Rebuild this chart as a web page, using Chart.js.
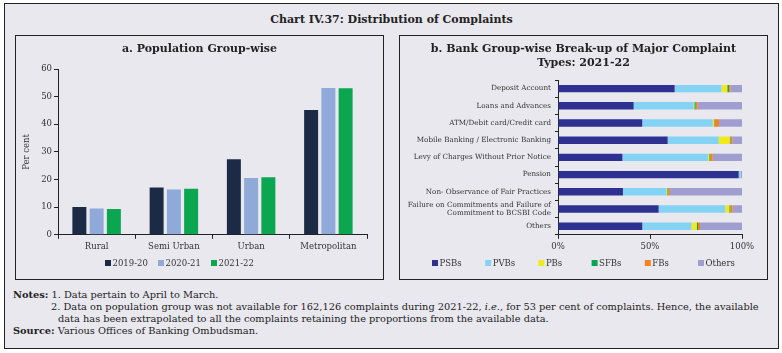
<!DOCTYPE html>
<html lang="en">
<head>
<meta charset="UTF-8" />
<title>Chart IV.37: Distribution of Complaints</title>
<script src="https://cdn.jsdelivr.net/npm/chart.js@4.4.1/dist/chart.umd.min.js"></script>
<style>
    body { margin: 0; background: #fff; }
    #page {
        position: absolute; left: 4px; top: 3px; width: 775px; height: 346px;
        background: #e9e8ee; border: 1px solid #222; box-sizing: border-box;
    }
    #title {
        position: absolute; left: 0; top: 9px; width: 100%; text-align: center;
        font: bold 11px "DejaVu Serif", serif; color: #222;
    }
    .panel {
        position: absolute; top: 31px; width: 369px; height: 245px;
        border: 1px solid #222; box-sizing: border-box;
    }
    .panel canvas { display: block; }
    .panel h2 {
        position: absolute; left: 0; top: 6px; width: 100%; margin: 0; text-align: center;
        font: bold 11px "DejaVu Serif", serif; line-height: 14px; color: #222;
    }
    #notes {
        position: absolute; left: 8px; top: 285px; width: 765px;
        font: 9.8px "DejaVu Serif", serif; color: #222; line-height: 12px; white-space: nowrap;
    }
    #notes .n2 { padding-left: 38px; }
    #notes .n3 { padding-left: 45px; }
</style>
</head>
<body>
<div id="page">
    <div id="title">Chart IV.37: Distribution of Complaints</div>
    <div class="panel" style="left:10px">
        <canvas id="left" width="367" height="243"></canvas>
        <h2>a. Population Group-wise</h2>
    </div>
    <div class="panel" style="left:394px">
        <canvas id="right" width="367" height="243"></canvas>
        <h2>b. Bank Group-wise Break-up of Major Complaint<br>Types: 2021-22</h2>
    </div>
    <div id="notes">
        <div><b>Notes:</b> 1. Data pertain to April to March.</div>
        <div class="n2">2. Data on population group was not available for 162,126 complaints during 2021-22, <i>i.e.</i>, for 53 per cent of complaints. Hence, the available</div>
        <div class="n3">data has been extrapolated to all the complaints retaining the proportions from the available data.</div>
        <div><b>Source:</b> Various Offices of Banking Ombudsman.</div>
    </div>
</div>
<script>
// panel a: population group
const groups = ['Rural', 'Semi Urban', 'Urban', 'Metropolitan'];
const y2019 = [10.1, 17.1, 27.3, 45.2];
const y2020 = [9.5, 16.4, 20.6, 53.1];
const y2021 = [9.3, 16.7, 20.8, 53.0];

// panel b: bank group shares (per cent)
const types = ['Deposit Account', 'Loans and Advances', 'ATM/Debit card/Credit card',
    'Mobile Banking / Electronic Banking', 'Levy of Charges Without Prior Notice', 'Pension',
    'Non- Observance of Fair Practices',
    ['Failure on Commitments and Failure of', 'Commitment to BCSBI Code'], 'Others'];
const psbs   = [63.4, 41.1, 45.8, 59.6, 35.0, 98.2, 35.3, 54.7, 45.8];
const pvbs   = [25.4, 32.6, 38.3, 27.7, 46.5, 1.1, 23.6, 36.2, 26.7];
const pbs    = [3.2, 0.4, 0.7, 6.0, 0.7, 0.0, 0.5, 2.2, 2.9];
const sfbs   = [0.9, 0.7, 0.2, 0.4, 0.5, 0.0, 0.5, 0.5, 0.7];
const fbs    = [0.9, 1.1, 2.5, 1.0, 1.4, 0.0, 0.9, 1.3, 1.1];
const others = [6.2, 24.1, 12.5, 5.3, 15.9, 0.7, 39.2, 5.1, 22.8];

const serif = '"DejaVu Serif", serif';
const ink = '#333';

// legend row with fixed spacing between entries (the built-in one ties spacing to padding)
const squareLegend = {
    id: 'squareLegend',
    afterDraw(chart, args, opts) {
        const ctx = chart.ctx;
        ctx.save();
        ctx.font = opts.size + 'px ' + serif;
        ctx.textBaseline = 'middle';
        chart.data.datasets.forEach((ds, i) => {
            const x = opts.x + i * opts.step;
            ctx.fillStyle = ds.backgroundColor;
            ctx.fillRect(x, opts.y - 3, 6, 6);
            ctx.fillStyle = ink;
            ctx.fillText(ds.label, x + 7.5, opts.y + 0.5);
        });
        ctx.restore();
    }
};

new Chart(document.getElementById('left'), {
    type: 'bar',
    data: {
        labels: groups,
        datasets: [
            { label: '2019-20', data: y2019, backgroundColor: '#1b2b45' },
            { label: '2020-21', data: y2020, backgroundColor: '#8fa9d9' },
            { label: '2021-22', data: y2021, backgroundColor: '#0aa650' }
        ]
    },
    plugins: [squareLegend],
    options: {
        responsive: false,
        animation: false,
        layout: { padding: { left: 0, right: 16, top: 33, bottom: 24 } },
        datasets: { bar: { categoryPercentage: 0.67, barPercentage: 0.81 } },
        plugins: {
            title: { display: false },
            legend: { display: false },
            squareLegend: { x: 89, y: 227, step: 53, size: 8.5 },
            tooltip: { enabled: false }
        },
        scales: {
            x: {
                grid: { display: true, drawOnChartArea: false, color: '#222', tickLength: 4, offset: true },
                border: { color: '#222' },
                ticks: { color: ink, font: { family: serif, size: 8.5 }, padding: 3 }
            },
            y: {
                min: 0, max: 60,
                afterFit: s => { s.width = 42; },
                grid: { display: true, drawOnChartArea: false, color: '#222', tickLength: 4 },
                border: { color: '#222' },
                ticks: { stepSize: 10, color: ink, font: { family: serif, size: 8.5 }, padding: 2 },
                title: {
                    display: true, text: 'Per cent', color: ink, font: { family: serif, size: 8.5 },
                    padding: { top: 6, bottom: 0 }
                }
            }
        }
    }
});

new Chart(document.getElementById('right'), {
    type: 'bar',
    data: {
        labels: types,
        datasets: [
            { label: 'PSBs', data: psbs, backgroundColor: '#2e3192' },
            { label: 'PVBs', data: pvbs, backgroundColor: '#84d3f4' },
            { label: 'PBs', data: pbs, backgroundColor: '#f1ea1b' },
            { label: 'SFBs', data: sfbs, backgroundColor: '#00a651' },
            { label: 'FBs', data: fbs, backgroundColor: '#f5821f' },
            { label: 'Others', data: others, backgroundColor: '#a09dd1' }
        ]
    },
    plugins: [squareLegend],
    options: {
        indexAxis: 'y',
        responsive: false,
        animation: false,
        layout: { padding: { left: 0, right: 25, top: 44, bottom: 24 } },
        datasets: { bar: { categoryPercentage: 0.43, barPercentage: 1 } },
        plugins: {
            title: { display: false },
            legend: { display: false },
            squareLegend: { x: 32, y: 227, step: 53.2, size: 8.5 },
            tooltip: { enabled: false }
        },
        scales: {
            x: {
                stacked: true, min: 0, max: 100,
                grid: { display: true, drawOnChartArea: false, color: '#222', tickLength: 4 },
                border: { color: '#222' },
                ticks: {
                    stepSize: 50, color: ink, font: { family: serif, size: 8.5 }, padding: 3,
                    callback: v => v + '%'
                }
            },
            y: {
                stacked: true,
                afterFit: s => { s.width = 158; },
                grid: { display: true, drawOnChartArea: false, color: '#222', tickLength: 3, offset: true },
                border: { color: '#222' },
                ticks: { color: ink, font: { family: serif, size: 7.2, lineHeight: 1.1 }, padding: 4, autoSkip: false }
            }
        }
    }
});
</script>
</body>
</html>
